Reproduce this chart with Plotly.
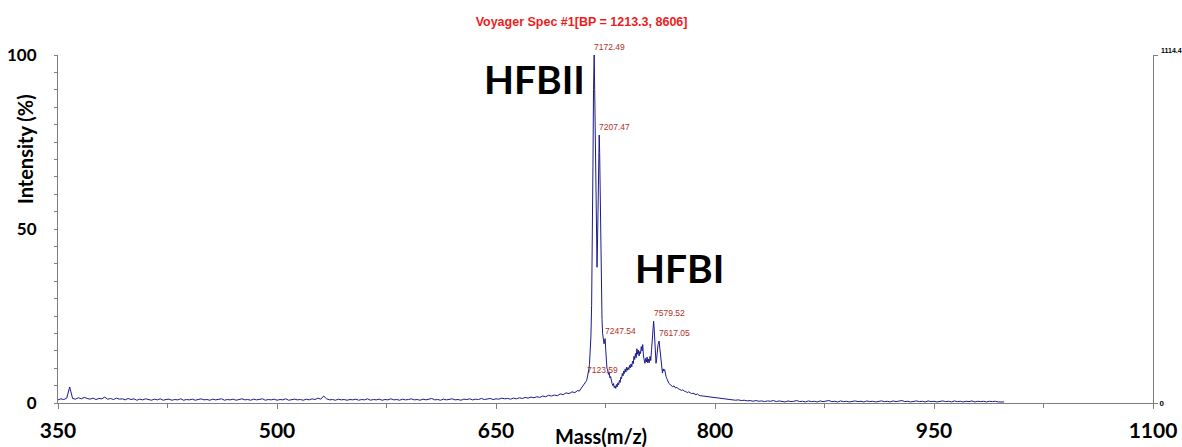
import plotly.graph_objects as go

# ---------------- data ----------------
baseline_mz = [350, 352, 354, 356, 358, 360, 362, 364, 366, 368, 370, 372, 374, 376, 378, 380, 382, 384, 386, 388,
               390, 392, 394, 396, 398, 400, 402, 404, 406, 408, 410, 412, 414, 416, 418, 420, 422, 424, 426, 428,
               430, 432, 434, 436, 438, 440, 442, 444, 446, 448, 450, 452, 454, 456, 458, 460, 462, 464, 466, 468,
               470, 472, 474, 476, 478, 480, 482, 484, 486, 488, 490, 492, 494, 496, 498, 500, 502, 504, 506, 508,
               510, 512, 514, 516, 518, 520, 522, 524, 526, 528, 530, 532, 534, 536, 538, 540, 542, 544, 546, 548,
               550, 552, 554, 556, 558, 560, 562, 564, 566, 568, 570, 572, 574, 576, 578, 580, 582, 584, 586, 588,
               590, 592, 594, 596, 598, 600, 602, 604, 606, 608, 610, 612, 614, 616, 618, 620, 622, 624, 626, 628,
               630, 632, 634, 636, 638, 640, 642, 644, 646, 648, 650, 652, 654, 656, 658, 660, 662, 664, 666, 668,
               670, 672, 674, 676, 678, 680, 682, 684, 686, 688]
baseline_int = [0.9, 1.2, 1.0, 1.4, 4.6, 1.3, 1.1, 1.5, 1.2, 1.6, 1.3, 1.1, 1.4, 1.0, 1.3, 1.2, 1.7, 1.1, 1.3, 1.0,
                1.4, 1.1, 1.2, 0.9, 1.3, 1.0, 1.2, 0.8, 1.1, 0.9, 1.2, 1.0, 0.8, 1.1, 0.9, 1.2, 0.8, 1.0, 1.1, 0.8,
                1.0, 0.9, 1.2, 0.8, 1.0, 0.9, 1.1, 0.8, 1.0, 1.2, 0.9, 1.0, 0.8, 1.1, 0.9, 1.0, 1.2, 0.8, 1.0, 0.9,
                1.1, 0.8, 1.0, 1.2, 0.9, 1.0, 0.8, 1.1, 0.9, 1.0, 1.2, 0.8, 1.0, 0.9, 1.1, 0.8, 1.0, 0.9, 1.2, 0.8,
                1.0, 1.1, 0.9, 1.0, 0.8, 1.1, 0.9, 1.2, 1.0, 1.4, 1.1, 2.0, 1.2, 0.9, 1.0, 0.8, 1.1, 0.9, 1.0, 0.8,
                1.0, 0.9, 1.1, 0.8, 1.0, 0.9, 1.2, 0.8, 1.0, 0.9, 1.1, 0.8, 1.0, 0.9, 1.2, 0.9, 1.0, 0.8, 1.1, 0.9,
                1.0, 1.2, 0.9, 1.0, 0.8, 1.1, 0.9, 1.0, 1.3, 0.9, 1.0, 0.8, 1.1, 0.9, 1.0, 1.2, 0.9, 1.0, 0.8, 1.1,
                1.0, 1.2, 0.9, 1.1, 1.0, 1.3, 1.0, 1.1, 1.3, 1.0, 1.2, 1.1, 1.4, 1.2, 1.3, 1.1, 1.4, 1.2, 1.5, 1.3,
                1.6, 1.4, 1.7, 1.5, 1.8, 1.6, 2.0, 1.8, 2.2, 2.0]

peak_mz = [690, 692, 694, 696, 698, 700, 702, 704, 706, 707, 708, 709, 710, 711, 712, 712.5, 713, 713.5, 714, 714.5,
           715, 715.5, 716, 716.4, 716.8, 717.25, 717.6, 718, 718.4, 718.8, 719.2, 719.6, 720, 720.4, 720.7, 721,
           721.4, 721.8, 722.2, 722.6, 723, 723.5, 724, 724.4, 724.75, 725.2, 725.6, 726, 726.5, 727, 727.5, 728,
           728.5, 729, 729.5, 730, 730.5, 731, 731.5, 732, 732.5, 733, 733.5, 734, 734.5, 735, 735.5, 736, 736.5,
           737, 737.5, 738, 738.5, 739, 739.5, 740, 740.5, 741, 741.5, 742, 742.5, 743, 743.5, 744, 744.5, 745,
           745.5, 746, 746.5, 747, 747.5, 748, 748.5, 749, 749.5, 750, 750.5, 751, 751.5, 752, 752.5, 753, 753.5,
           754, 754.5, 755, 755.5, 756, 756.5, 757, 757.5, 757.95, 758.4, 758.8, 759.2, 759.6, 760, 760.5, 761,
           761.7, 762.2, 762.6, 763, 763.5, 764, 764.5, 765, 765.5, 766, 766.5, 767, 767.5, 768, 768.5, 769, 770,
           771, 772, 773, 774, 775, 776, 777, 778, 779, 780, 781, 782, 783, 784, 785, 786, 787, 788, 789, 790]
peak_int = [2.3, 2.1, 2.6, 2.4, 2.9, 2.7, 3.2, 3.0, 3.6, 3.4, 4.0, 4.4, 4.9, 5.6, 6.4, 7.2, 8.0, 9.5, 11, 14,
            19, 28, 45, 68, 90, 100, 90, 78, 62, 46, 39, 48, 63, 74, 77, 72,
            58, 42, 30, 24, 20, 18.5, 17, 17.8, 18.5, 15, 12, 10, 9.5, 8.2, 8.8, 7.2,
            7.6, 6.2, 5.6, 5.0, 5.6, 4.4, 4.9, 4.2, 5.3, 4.6, 5.8, 5.2, 6.5, 5.9, 7.4, 7.0, 8.5,
            7.8, 9.2, 8.5, 9.8, 8.9, 10.3, 9.4, 10.2, 9.6, 10.8, 10.1, 11.2, 10.4, 12.0, 11.3, 13.4, 12.5,
            14.2, 13.0, 15.6, 14.0, 15.2, 13.5, 14.8, 14.2, 16.2, 15.0, 16.8, 13.5, 12.2, 11.4, 12.8, 11.8, 13.2,
            11.5, 12.6, 11.6, 13.4, 12.2, 15.0, 18.5, 22.0, 23.5, 21, 15.5, 12.0, 11.4, 12.6, 15.0, 16.8,
            17.8, 15.8, 12.5, 10.6, 9.2, 8.6, 9.8, 9.2, 9.6, 8.2, 7.6, 7.0, 6.4, 6.0, 5.6, 5.4, 5.0,
            4.7, 4.9, 4.3, 4.5, 4.0, 3.9, 3.6, 3.8, 3.4, 3.3, 3.0, 3.2, 2.9, 2.7, 2.8, 2.5, 2.4, 2.6, 2.2, 2.1]

tail_mz = [792, 794, 796, 798, 800, 802, 804, 806, 808, 810, 812, 814, 816, 818, 820, 822, 824, 826, 828, 830,
           832, 834, 836, 838, 840, 842, 844, 846, 848, 850, 852, 854, 856, 858, 860, 862, 864, 866, 868, 870,
           872, 874, 876, 878, 880, 882, 884, 886, 888, 890, 892, 894, 896, 898, 900, 902, 904, 906, 908, 910,
           912, 914, 916, 918, 920, 922, 924, 926, 928, 930, 932, 934, 936, 938, 940, 942, 944, 946, 948, 950,
           952, 954, 956, 958, 960, 962, 964, 966, 968, 970, 972, 974, 976, 978, 980, 982, 984, 986, 988, 990,
           992, 994, 996, 998]
tail_int = [2.0, 1.8, 1.7, 1.5, 1.6, 1.3, 1.2, 1.3, 1.0, 1.1, 0.9, 0.8, 0.9, 0.7, 0.8, 0.6, 0.7, 0.5, 0.7, 0.5,
            0.6, 0.4, 0.6, 0.5, 0.7, 0.4, 0.6, 0.5, 0.3, 0.6, 0.4, 0.5, 0.7, 0.4, 0.5, 0.3, 0.6, 0.4, 0.5, 0.3,
            0.6, 0.4, 0.5, 0.7, 0.4, 0.5, 0.3, 0.6, 0.4, 0.5, 0.3, 0.5, 0.6, 0.4, 0.5, 0.3, 0.6, 0.4, 0.5, 0.3,
            0.5, 0.6, 0.4, 0.5, 0.3, 0.6, 0.4, 0.5, 0.7, 0.4, 0.5, 0.3, 0.5, 0.6, 0.4, 0.5, 0.3, 0.6, 0.4, 0.5,
            0.3, 0.5, 0.6, 0.4, 0.5, 0.3, 0.6, 0.4, 0.5, 0.3, 0.5, 0.4, 0.6, 0.3, 0.5, 0.4, 0.5, 0.3, 0.5, 0.4,
            0.5, 0.3, 0.4, 0.3]

label_mz = [717.25, 720.75, 724.75, 712.36, 757.95, 761.70]
label_int = [100, 77, 18.5, 7.2, 23.5, 17.8]
label_text = ["7172.49", "7207.47", "7247.54", "7123.59", "7579.52", "7617.05"]

x_ticks = [350, 500, 650, 800, 950, 1100]
y_ticks = [0, 50, 100]
y2_max = 1114.4

protein_names = ["HFBII", "HFBI"]
protein_mz = [676.7, 776.0]
protein_int = [93.1, 38.8]

title_text = "Voyager Spec #1[BP = 1213.3, 8606]"

# ---------------- figure ----------------
mz = baseline_mz + peak_mz + tail_mz
inten = baseline_int + peak_int + tail_int

BIG = "Lato, Carlito, 'Open Sans', sans-serif"
NARROW = "'Liberation Sans Narrow', 'Arial Narrow', 'Liberation Sans', sans-serif"
AXC = "#7f7f7f"

fig = go.Figure()
fig.add_trace(go.Scatter(x=mz, y=inten, mode="lines",
                         line=dict(color="#1b1b8a", width=1),
                         showlegend=False, hoverinfo="skip"))
# invisible trace so the right-hand axis is drawn
fig.add_trace(go.Scatter(x=[x_ticks[0]], y=[0], yaxis="y2", mode="markers",
                         marker=dict(opacity=0), showlegend=False, hoverinfo="skip"))

annotations = []
for m, i, t in zip(label_mz, label_int, label_text):
    annotations.append(dict(x=m, y=i, xref="x", yref="y", text=t, showarrow=False,
                            xanchor="left", yanchor="bottom", xshift=-2, yshift=1,
                            font=dict(family=NARROW, size=8.5, color="#b0312a")))
for n, m, i in zip(protein_names, protein_mz, protein_int):
    annotations.append(dict(x=m, y=i, xref="x", yref="y", text="<b>%s</b>" % n, showarrow=False,
                            xanchor="center", yanchor="middle",
                            font=dict(family=BIG, size=39, color="black")))
annotations.append(dict(x=-0.030, y=0.73, xref="paper", yref="paper", text="<b>Intensity (%)</b>",
                        textangle=-90, showarrow=False, xanchor="center", yanchor="middle",
                        font=dict(family=BIG, size=20, color="black")))
annotations.append(dict(x=0.496, y=-0.095, xref="paper", yref="paper", text="<b>Mass(m/z)</b>",
                        showarrow=False, xanchor="center", yanchor="middle",
                        font=dict(family=BIG, size=20, color="black")))
annotations.append(dict(x=1.0, y=1.0, xref="paper", yref="paper", text="<b>1114.4</b>",
                        showarrow=False, xanchor="left", yanchor="bottom", xshift=6, yshift=-1,
                        font=dict(family=NARROW, size=7, color="black")))

fig.update_layout(
    width=1182, height=447,
    margin=dict(l=58, r=29, t=55, b=44, autoexpand=False),
    paper_bgcolor="white", plot_bgcolor="white",
    title=dict(text="<b>%s</b>" % title_text, x=0.492, xanchor="center", y=0.952, yanchor="middle",
               automargin=False,
               font=dict(family=NARROW, size=12.5, color="#ee1c1c")),
    xaxis=dict(range=[350, 1100], tickvals=x_ticks, ticktext=[str(v) for v in x_ticks], automargin=False,
               ticks="outside", ticklen=5, tickcolor=AXC, showline=True, linecolor=AXC, linewidth=1,
               showgrid=False, zeroline=False, ticklabelstandoff=4,
               minor=dict(tick0=350, dtick=75, ticks="outside", ticklen=4, tickcolor=AXC, showgrid=False),
               tickfont=dict(family=BIG, size=21, color="black", weight="bold")),
    yaxis=dict(range=[0, 100], tickvals=y_ticks, ticktext=[str(v) for v in y_ticks], automargin=False,
               ticks="outside", ticklen=3, tickcolor=AXC, showline=True, linecolor=AXC, linewidth=1,
               showgrid=False, zeroline=False, ticklabelstandoff=14,
               minor=dict(tick0=0, dtick=5, ticks="outside", ticklen=3, tickcolor=AXC, showgrid=False),
               tickfont=dict(family=BIG, size=17, color="black", weight="bold")),
    yaxis2=dict(range=[0, y2_max], overlaying="y", side="right", tickvals=[0, y2_max], automargin=False,
                ticktext=["0", ""], ticks="outside", ticklen=4, tickcolor=AXC,
                showline=True, linecolor=AXC, linewidth=1, showgrid=False, zeroline=False,
                tickfont=dict(family=NARROW, size=8, color="black", weight="bold")),
    annotations=annotations,
)

fig.write_html("out.html", config={"displayModeBar": False},
               post_script="document.body.style.margin='0px';document.body.style.overflow='hidden';")
